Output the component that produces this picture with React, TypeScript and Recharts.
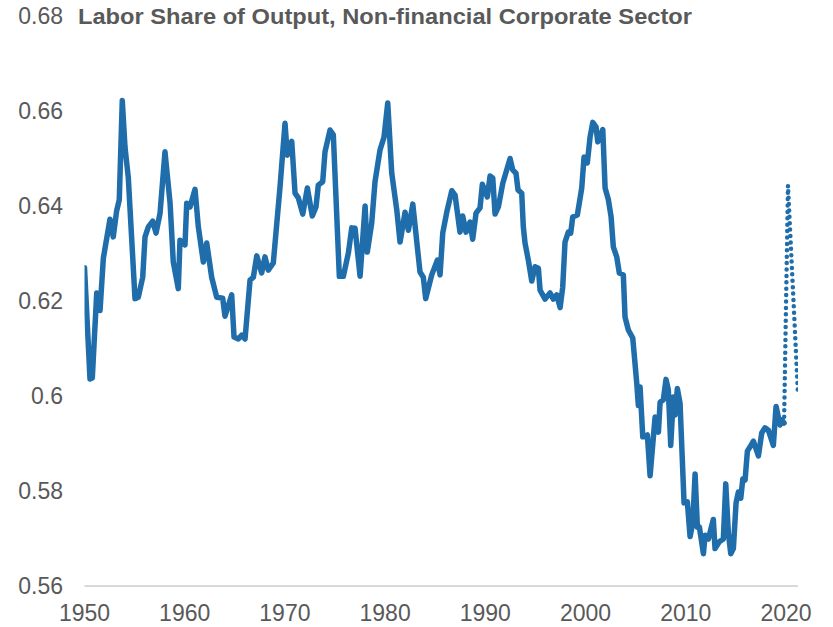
import React from 'react';
import { LineChart, Line, XAxis, YAxis } from 'recharts';

const TITLE = 'Labor Share of Output, Non-financial Corporate Sector';

const years: number[] = [
  1950.0, 1950.55, 1950.78, 1951.22, 1951.55, 1951.88, 1952.54, 1952.87, 1953.21, 1953.47,
  1953.77, 1954.04, 1954.37, 1955.04, 1955.37, 1955.81, 1956.04, 1956.37, 1956.81, 1957.14,
  1957.54, 1958.03, 1958.54, 1958.86, 1959.36, 1959.53, 1960.03, 1960.2, 1960.53, 1961.03,
  1961.36, 1961.86, 1962.2, 1962.69, 1963.19, 1963.79, 1964.02, 1964.69, 1964.92, 1965.35,
  1965.69, 1966.02, 1966.52, 1966.85, 1967.19, 1967.68, 1968.01, 1968.34, 1968.84, 1969.51,
  1970.01, 1970.24, 1970.68, 1971.01, 1971.34, 1971.78, 1972.24, 1972.73, 1973.1, 1973.33,
  1973.77, 1974.0, 1974.5, 1974.83, 1975.43, 1975.83, 1976.33, 1976.67, 1977.0, 1977.5,
  1978.0, 1978.22, 1978.66, 1978.99, 1979.49, 1979.89, 1980.26, 1980.66, 1981.16, 1981.49,
  1981.99, 1982.32, 1982.76, 1983.48, 1983.81, 1984.05, 1984.65, 1985.21, 1985.48, 1985.75,
  1986.15, 1986.65, 1986.98, 1987.47, 1987.74, 1988.07, 1988.47, 1988.74, 1989.07, 1989.47,
  1989.7, 1990.2, 1990.47, 1990.74, 1990.97, 1991.3, 1991.74, 1992.47, 1992.73, 1993.06,
  1993.26, 1993.63, 1993.79, 1993.96, 1994.29, 1994.63, 1994.96, 1995.29, 1995.46, 1995.96,
  1996.46, 1996.79, 1997.13, 1997.46, 1997.72, 1997.95, 1998.28, 1998.52, 1998.72, 1999.18,
  1999.62, 1999.85, 2000.18, 2000.45, 2000.72, 2001.05, 2001.22, 2001.45, 2001.72, 2001.95,
  2002.28, 2002.55, 2002.77, 2003.11, 2003.37, 2003.77, 2003.94, 2004.27, 2004.71, 2005.11,
  2005.27, 2005.44, 2005.71, 2006.17, 2006.44, 2006.94, 2007.27, 2007.44, 2007.76, 2008.03,
  2008.26, 2008.5, 2008.76, 2008.93, 2009.16, 2009.43, 2009.83, 2010.16, 2010.43, 2010.7,
  2010.93, 2011.16, 2011.36, 2011.76, 2011.93, 2012.26, 2012.75, 2012.92, 2013.35, 2013.75,
  2013.99, 2014.25, 2014.49, 2014.75, 2015.02, 2015.25, 2015.49, 2015.69, 2015.92, 2016.15,
  2016.42, 2016.75, 2017.25, 2017.58, 2017.91, 2018.24, 2018.74, 2019.01, 2019.41, 2019.58,
  2019.81,
];

const laborShare: number[] = [
  0.627, 0.6036, 0.6038, 0.6217, 0.618, 0.629, 0.6372, 0.6335, 0.639, 0.6413,
  0.6622, 0.6524, 0.646, 0.6205, 0.6208, 0.625, 0.6335, 0.6356, 0.6368, 0.6343,
  0.6385, 0.6514, 0.6406, 0.6282, 0.6226, 0.6328, 0.6318, 0.6406, 0.6398, 0.6435,
  0.6356, 0.6282, 0.6322, 0.625, 0.6208, 0.6206, 0.6168, 0.6213, 0.6124, 0.612,
  0.6128, 0.612, 0.6244, 0.625, 0.6295, 0.6259, 0.6293, 0.6265, 0.628, 0.644,
  0.6574, 0.6507, 0.6536, 0.6427, 0.6417, 0.6383, 0.6438, 0.6379, 0.6398, 0.6444,
  0.6451, 0.6514, 0.656, 0.655, 0.6252, 0.6252, 0.6301, 0.6354, 0.6353, 0.6252,
  0.64, 0.6303, 0.6364, 0.6451, 0.6518, 0.6545, 0.6617, 0.6469, 0.6392, 0.6324,
  0.6387, 0.6349, 0.6404, 0.6261, 0.625, 0.6205, 0.6255, 0.6286, 0.6255, 0.6343,
  0.6387, 0.6432, 0.6423, 0.6345, 0.6379, 0.6345, 0.6366, 0.633, 0.6385, 0.6396,
  0.6446, 0.6419, 0.6463, 0.6459, 0.6383, 0.6398, 0.6448, 0.65, 0.6476, 0.6469,
  0.6434, 0.6427, 0.6356, 0.6322, 0.6286, 0.6242, 0.6272, 0.6269, 0.6223, 0.6204,
  0.6217, 0.6204, 0.6213, 0.6186, 0.6229, 0.6324, 0.6345, 0.6343, 0.6377, 0.6381,
  0.6438, 0.6503, 0.6491, 0.6545, 0.6576, 0.6566, 0.6535, 0.6545, 0.6561, 0.6438,
  0.6413, 0.6377, 0.6314, 0.6293, 0.6259, 0.6255, 0.6166, 0.6139, 0.6122, 0.6027,
  0.598, 0.6019, 0.5914, 0.5918, 0.5832, 0.5956, 0.5924, 0.5987, 0.5992, 0.6035,
  0.6013, 0.5896, 0.5998, 0.596, 0.6016, 0.5985, 0.5775, 0.5777, 0.5704, 0.5733,
  0.5836, 0.5724, 0.5724, 0.5668, 0.5707, 0.5699, 0.574, 0.5679, 0.5693, 0.5699,
  0.5815, 0.5712, 0.5668, 0.5679, 0.5775, 0.5798, 0.5785, 0.5825, 0.5823, 0.5884,
  0.5893, 0.5905, 0.5874, 0.5922, 0.5933, 0.5928, 0.5896, 0.5978, 0.5939, 0.595,
  0.5943,
];

const projYears: number[] = [2019.81, 2020.2, 2021.2];
const projValues: number[] = [0.5943, 0.6443, 0.6002];

const xTicks: number[] = [1950, 1960, 1970, 1980, 1990, 2000, 2010, 2020];
const yTicks: number[] = [0.56, 0.58, 0.6, 0.62, 0.64, 0.66, 0.68];

const mainData = years.map((year, i) => ({ year, value: laborShare[i] }));
const projData = projYears.map((year, i) => ({ year, value: projValues[i] }));

const FONT = '"Liberation Sans", Arial, sans-serif';
const TEXT_COLOR = '#595959';
const LINE_COLOR = '#1F6EAB';

export default function App() {
  return (
    <div style={{ position: 'absolute', left: 0, top: 0, width: 833, height: 627, background: '#fff' }}>
      <LineChart
        width={833}
        height={627}
        margin={{ top: 16, right: 35, bottom: 0, left: 0 }}
      >
        <XAxis
          type="number"
          dataKey="year"
          domain={[1950, 2021.2]}
          ticks={xTicks}
          interval={0}
          allowDataOverflow
          height={41}
          tickLine={false}
          tickSize={0}
          tickMargin={19}
          axisLine={{ stroke: '#D9D9D9', strokeWidth: 2 }}
          tick={{ fill: TEXT_COLOR, fontSize: 23, fontFamily: FONT }}
        />
        <YAxis
          type="number"
          domain={[0.56, 0.68]}
          ticks={yTicks}
          interval={0}
          allowDataOverflow
          width={84.5}
          tickLine={false}
          axisLine={false}
          tickSize={0}
          tickMargin={21.5}
          tickFormatter={(v: number) => String(Number(v.toFixed(2)))}
          tick={{ fill: TEXT_COLOR, fontSize: 23, fontFamily: FONT }}
        />
        <Line
          data={mainData}
          dataKey="value"
          type="linear"
          stroke={LINE_COLOR}
          strokeWidth={5.5}
          strokeLinejoin="round"
          strokeLinecap="round"
          dot={false}
          activeDot={false}
          isAnimationActive={false}
        />
        <Line
          data={projData}
          dataKey="value"
          type="linear"
          stroke={LINE_COLOR}
          strokeWidth={4.5}
          strokeDasharray="0 6.4"
          strokeLinecap="round"
          dot={false}
          activeDot={false}
          isAnimationActive={false}
        />
      </LineChart>
      <svg
        width={833}
        height={40}
        style={{ position: 'absolute', left: 0, top: 0, pointerEvents: 'none' }}
      >
        <text
          x={78}
          y={24}
          fill={TEXT_COLOR}
          fontSize={22.5}
          fontWeight="bold"
          fontFamily={FONT}
          textLength={614}
          lengthAdjust="spacingAndGlyphs"
        >
          {TITLE}
        </text>
      </svg>
    </div>
  );
}
